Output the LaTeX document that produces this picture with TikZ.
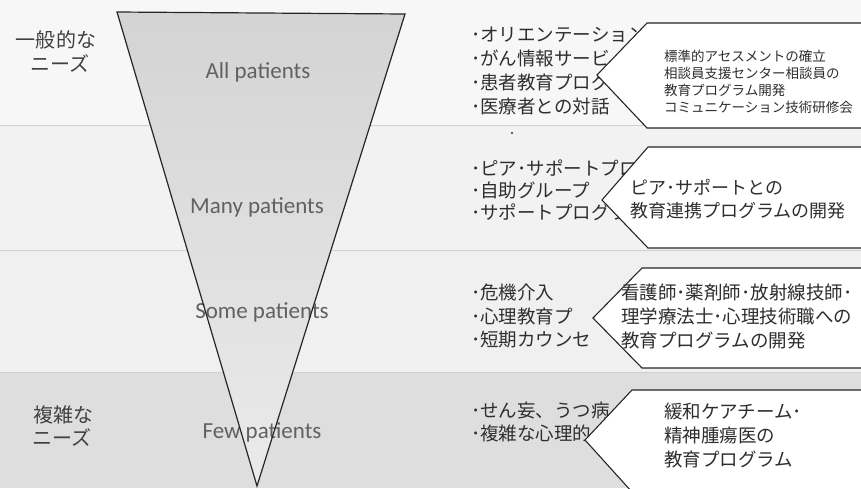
\documentclass[tikz,border=0pt]{standalone}
\usepackage{fontspec}
\setmainfont{Carlito}
\newfontfamily\jp{Noto Sans CJK JP}
\begin{document}
\begin{tikzpicture}[x=1pt,y=-1pt,
  lbl/.style={font=\jp\fontsize{20}{24}\selectfont, text=black!75, inner sep=0},
  pat/.style={font=\fontsize{23}{26}\selectfont, text=black!62, inner sep=0},
  item/.style={font=\jp\fontsize{18.5}{20}\selectfont, anchor=west, inner sep=0, text=black!82},
  chev/.style={draw=black!85, line width=1.1pt, fill=white, line join=miter},
  boxtxt/.style={anchor=west, align=left, inner sep=0, text=black!82},
  sep/.style={draw=black!18, line width=0.6pt}]
\useasboundingbox (0,0) rectangle (861,488);
\clip (0,0) rectangle (861,488);
% background bands
\fill[black!3] (0,0) rectangle (861,125);
\fill[black!5] (0,125) rectangle (861,250);
\fill[black!6] (0,250) rectangle (861,372);
\fill[black!13] (0,372) rectangle (861,488);
\draw[sep] (0,125) -- (861,125);
\draw[sep] (0,250) -- (861,250);
\draw[sep] (0,372) -- (861,372);
% triangle
\coordinate (TL) at (117,12);
\coordinate (TR) at (405,14);
\coordinate (TB) at (257,486);
\shade[top color=black!17, bottom color=black!8] (TL) -- (TR) -- (TB) -- cycle;
% left labels
\node[lbl] (g1) at (56,40) {一般的な};
\node[lbl] (g2) at (60,63) {ニーズ};
\node[lbl] (c1) at (63,415) {複雑な};
\node[lbl] (c2) at (62,437) {ニーズ};
% patient labels
\node[pat] (p1) at (258,72) {All patients};
\node[pat] (p2) at (257,207) {Many patients};
\node[pat] (p3) at (262,312) {Some patients};
\node[pat] (p4) at (262,432) {Few patients};
\draw[black!85, line width=1.2pt, line join=miter] (TL) -- (TR) -- (TB) -- cycle;
% lists
\node[item] (a1) at (471,35) {･オリエンテーション};
\node[item] (a2) at (471,58) {･がん情報サービ};
\node[item] (a3) at (471,82) {･患者教育プログ};
\node[item] (a4) at (471,106) {･医療者との対話};
\fill[black!80] (512,133) circle (1.2pt);
\node[item] (b1) at (471,168) {･ピア･サポートプロ};
\node[item] (b2) at (471,190) {･自助グループ};
\node[item] (b3) at (471,212) {･サポートプログラ};
\node[item] (d1) at (471,292) {･危機介入};
\node[item] (d2) at (471,316) {･心理教育プ};
\node[item] (d3) at (471,340) {･短期カウンセ};
\node[item] (e1) at (471,410) {･せん妄、うつ病};
\node[item] (e2) at (471,433) {･複雑な心理的};
% chevrons
\draw[chev] (875,23) -- (647,23) -- (597,75) -- (647,128) -- (875,128) -- cycle;
\draw[chev] (875,147) -- (648,147) -- (602,200) -- (648,248) -- (875,248) -- cycle;
\draw[chev] (875,268) -- (642,268) -- (593,318) -- (642,368) -- (875,368) -- cycle;
\draw[chev] (875,390) -- (632,390) -- (585,440) -- (632,492) -- (875,492) -- cycle;
% chevron texts
\node[boxtxt, font=\jp\fontsize{13.5}{17}\selectfont] (t1) at (664,81.5)
  {標準的アセスメントの確立\\相談員支援センター相談員の\\教育プログラム開発\\コミュニケーション技術研修会};
\node[boxtxt, font=\jp\fontsize{18}{23}\selectfont] (t2) at (630,199.5)
  {ピア･サポートとの\\教育連携プログラムの開発};
\node[boxtxt, font=\jp\fontsize{18.5}{24}\selectfont] (t3) at (621,316)
  {看護師･薬剤師･放射線技師･\\理学療法士･心理技術職への\\教育プログラムの開発};
\node[boxtxt, font=\jp\fontsize{18.5}{24}\selectfont] (t4) at (664,435)
  {緩和ケアチーム･\\精神腫瘍医の\\教育プログラム};
\end{tikzpicture}
\end{document}
